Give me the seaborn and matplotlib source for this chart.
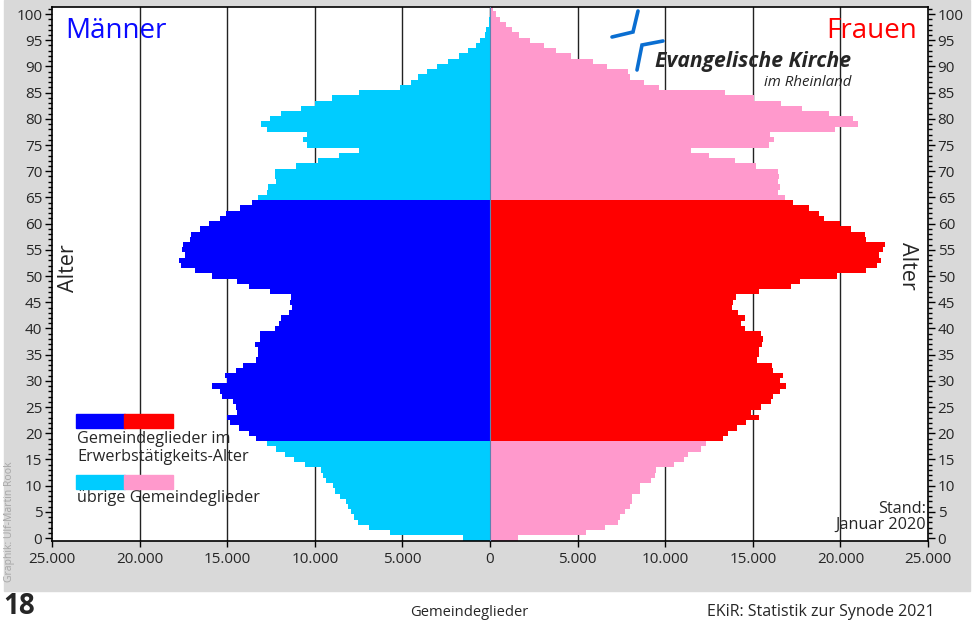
import pandas as pd
import seaborn as sns
import matplotlib.pyplot as plt
from matplotlib.patches import Rectangle
from matplotlib.lines import Line2D
from matplotlib.ticker import FuncFormatter, MultipleLocator

# Gemeindeglieder nach Alter (Stand Januar 2020)
alter = list(range(0, 102))
maenner = [1550, 5690, 6910, 7540, 7770, 7920, 8110, 8200, 8550, 8870,
           8970, 9380, 9540, 9630, 10580, 11210, 11710, 12220, 12710, 13380,
           13760, 14330, 14860, 14990, 14440, 14480, 14670, 15280, 15390, 15850,
           14990, 15150, 14480, 14120, 13380, 13250, 13250, 13420, 13150, 13150,
           12260, 12050, 11910, 11500, 11290, 11420, 11340, 12580, 13740, 14450,
           15870, 16860, 17660, 17770, 17390, 17580, 17500, 17140, 17070, 16550,
           16060, 15430, 15090, 14290, 13570, 13250, 12710, 12650, 12200, 12290,
           12250, 11060, 9820, 8640, 7480, 10450, 10660, 10450, 12750, 13070,
           12580, 11950, 10770, 9990, 9040, 7480, 5160, 4520, 4100, 3600,
           3050, 2420, 1770, 1240, 820, 550, 290, 200, 80, 40,
           20, 10]
frauen = [1590, 5490, 6570, 7310, 7440, 7710, 8010, 8080, 8110, 8550,
          8590, 9190, 9420, 9480, 10510, 11060, 11320, 12050, 12330, 13300,
          13600, 14100, 14600, 15330, 14900, 15470, 16040, 16170, 16580, 16900,
          16560, 16730, 16160, 16100, 15250, 15340, 15380, 15500, 15590, 15440,
          14550, 14300, 14550, 14170, 13820, 13880, 14050, 15360, 17190, 17700,
          19780, 21480, 22110, 22340, 22190, 22440, 22570, 21460, 21430, 20610,
          19970, 19090, 18790, 18220, 17310, 16830, 16430, 16580, 16410, 16490,
          16410, 15160, 13970, 12490, 11450, 15920, 16200, 16000, 19720, 21010,
          20710, 19340, 17820, 16600, 15050, 13430, 9630, 8810, 7980, 7880,
          6660, 5870, 4650, 3740, 3070, 2290, 1680, 1230, 885, 580,
          360, 160]
erwerb_von, erwerb_bis = 19, 64

rows = []
for a, m, f in zip(alter, maenner, frauen):
    erwerb = erwerb_von <= a <= erwerb_bis
    rows.append({'Alter': a, 'Anzahl': -m, 'Gruppe': 'M_erwerb' if erwerb else 'M_uebrig'})
    rows.append({'Alter': a, 'Anzahl': f, 'Gruppe': 'F_erwerb' if erwerb else 'F_uebrig'})
df = pd.DataFrame(rows)

farben = {'M_erwerb': '#0000ff', 'F_erwerb': '#ff0000',
          'M_uebrig': '#00ccff', 'F_uebrig': '#ff99cc'}

sns.set_theme(style='ticks')
plt.rcParams['font.family'] = ['Open Sans', 'DejaVu Sans']

W, H = 974, 622


def px(x, y):
    return x / W, 1 - y / H


fig = plt.figure(figsize=(W / 100, H / 100), dpi=100)
fig.patches.append(Rectangle(px(4, 591), 966 / W, 591 / H, transform=fig.transFigure,
                             color='#d9d9d9', zorder=-5))

ax = fig.add_axes([52 / W, 1 - 540.7 / H, 876 / W, 534 / H])
ax.set_facecolor('white')
for xv in range(-20000, 25000, 5000):
    ax.axvline(xv, color='#222222', lw=1, zorder=0)

sns.barplot(data=df, x='Anzahl', y='Alter', hue='Gruppe', palette=farben, orient='h',
            native_scale=True, dodge=False, width=1, linewidth=0, errorbar=None,
            saturation=1, legend=False, ax=ax, zorder=2)
ax.axvline(0, color='#5b84b1', lw=0.8, zorder=3)

ax.set_xlim(-25000, 25000)
ax.set_ylim(-0.5, 101.4)
ax.set_xlabel('')
ax.set_ylabel('')
ax.set_xticks(range(-25000, 25001, 5000))
ax.xaxis.set_major_formatter(FuncFormatter(lambda v, p: f"{abs(int(v)):,}".replace(',', '.')))
ax.yaxis.set_major_locator(MultipleLocator(5))
ax.yaxis.set_minor_locator(MultipleLocator(1))
ax.tick_params(axis='y', which='both', left=True, right=True, labelleft=True,
               labelright=True, direction='out', color='black', labelsize=11, pad=2)
ax.tick_params(axis='y', which='major', length=5, width=1)
ax.tick_params(axis='y', which='minor', length=3, width=1)
ax.tick_params(axis='x', which='major', bottom=True, length=4, width=1, labelsize=11,
               color='black', pad=4)
for s in ax.spines.values():
    s.set_color('black')
    s.set_linewidth(1.2)
    s.set_visible(True)

# Beschriftungen im Diagramm
fig.text(*px(65, 31), 'Männer', color='#0a0aff', fontsize=20, ha='left', va='center')
fig.text(*px(917, 31), 'Frauen', color='#ff0000', fontsize=20, ha='right', va='center')
fig.text(*px(69, 268), 'Alter', fontsize=15.5, rotation=90, ha='center', va='center')
fig.text(*px(907, 266), 'Alter', fontsize=15.5, rotation=-90, ha='center', va='center')

# Logo
for xs, ys in [([612, 633, 638], [37, 32, 11]), ([663, 642, 637], [41, 45, 70])]:
    fig.add_artist(Line2D([x / W for x in xs], [1 - y / H for y in ys],
                          color='#0a6ed1', lw=2.6, solid_joinstyle='miter',
                          transform=fig.transFigure))
fig.text(*px(851, 61), 'Evangelische Kirche', fontsize=15.2, fontweight='bold',
         fontstyle='italic', ha='right', va='center')
fig.text(*px(851, 82), 'im Rheinland', fontsize=10.8, fontstyle='italic',
         ha='right', va='center')

# Legende
for x0, c in [(76, '#0000ff'), (124, '#ff0000')]:
    fig.patches.append(Rectangle(px(x0, 428), 49 / W, 14 / H, transform=fig.transFigure,
                                 color=c, zorder=5))
for x0, c in [(76, '#00ccff'), (124, '#ff99cc')]:
    fig.patches.append(Rectangle(px(x0, 489), 49 / W, 14 / H, transform=fig.transFigure,
                                 color=c, zorder=5))
fig.text(*px(77, 448), 'Gemeindeglieder im\nErwerbstätigkeits-Alter', fontsize=11.7,
         ha='left', va='center', linespacing=1.1)
fig.text(*px(77, 498), 'übrige Gemeindeglieder', fontsize=11.7, ha='left', va='center')

fig.text(*px(926, 517), 'Stand:\nJanuar 2020', fontsize=11.7, ha='right', va='center',
         multialignment='right', linespacing=1.05)
fig.text(*px(10, 522), 'Graphik: Ulf-Martin Rook', fontsize=7.5, color='#a6a6a6',
         rotation=90, ha='center', va='center')

# Fusszeile
fig.text(*px(3, 607), '18', fontsize=20, fontweight='bold', ha='left', va='center')
fig.text(*px(469, 612), 'Gemeindeglieder', fontsize=10.6, ha='center', va='center')
fig.text(*px(935, 612), 'EKiR: Statistik zur Synode 2021', fontsize=11.5, ha='right',
         va='center')

fig.savefig('out.png', dpi=100)
